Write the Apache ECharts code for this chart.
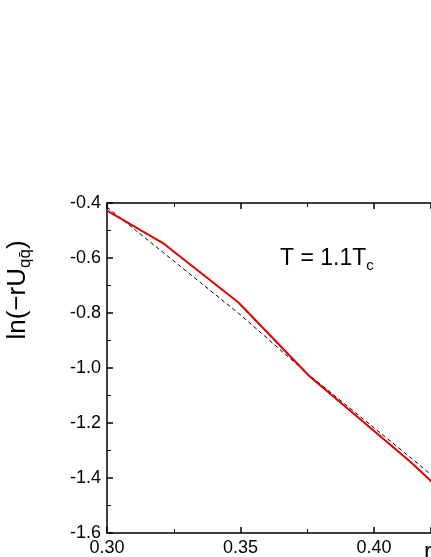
<!DOCTYPE html><html><head><meta charset="utf-8"><script src="https://cdn.jsdelivr.net/npm/echarts@6/dist/echarts.min.js"></script></head><body style="margin:0"><div id="c" style="width:431px;height:557px"></div><script>
const redX=[0.30,0.3214,0.3492,0.3758,0.4139,0.43];
const redY=[-0.428,-0.549,-0.762,-1.030,-1.344,-1.49];
const dashX=[0.30,0.35,0.375,0.4142,0.43];
const dashY=[-0.415,-0.807,-1.02,-1.33,-1.46];
const yTicks=[-0.4,-0.6,-0.8,-1.0,-1.2,-1.4,-1.6];
const ax={lineStyle:{color:'#000',width:1.5}};
const tk={inside:true,length:6,lineStyle:{color:'#000',width:1.5}};
const mt={show:true,splitNumber:2,length:4,lineStyle:{color:'#000'}};
const c=echarts.init(document.getElementById('c'));
c.setOption({animation:false,
grid:{left:107,top:203,height:340,right:0},
xAxis:[{type:'value',min:0.30,max:0.4213,interval:0.05,axisLine:ax,axisTick:tk,minorTick:mt,splitLine:{show:false},axisLabel:{color:'#000',fontSize:18,fontFamily:'Liberation Sans',margin:6,showMaxLabel:false,formatter:v=>v.toFixed(2)}},
{type:'value',position:'top',min:0.30,max:0.4213,interval:0.05,axisLine:ax,axisTick:tk,minorTick:mt,splitLine:{show:false},axisLabel:{show:false}}],
yAxis:{type:'value',min:-1.6,max:-0.4,interval:0.2,axisLine:{show:true,...ax},axisTick:tk,minorTick:mt,splitLine:{show:false},axisLabel:{color:'#000',fontSize:18,fontFamily:'Liberation Sans',margin:6,formatter:v=>v.toFixed(1)}},
series:[{type:'line',data:dashX.map((x,i)=>[x,dashY[i]]),symbol:'none',lineStyle:{color:'#000',width:1,type:[4,3]}},
{type:'line',data:redX.map((x,i)=>[x,redY[i]]),symbol:'none',lineStyle:{color:'#e00000',width:2}}],
graphic:[{type:'text',left:280,top:247,style:{rich:{a:{fontSize:23,fontFamily:'Liberation Sans'},b:{fontSize:15,fontFamily:'Liberation Sans',padding:[14,0,0,0]}},text:'{a|T = 1.1T}{b|c}',fill:'#000'}},
{type:'text',x:18,y:290,rotation:Math.PI/2,style:{rich:{a:{fontSize:26,fontFamily:'Liberation Sans'},s:{fontSize:17,fontFamily:'Liberation Sans',padding:[14,0,0,0]}},text:'{a|ln(−rU}{s|qq̄}{a|)}',fill:'#000',align:'center',verticalAlign:'middle'}},
{type:'text',left:424,top:540,style:{text:'r',fontSize:24,fontFamily:'Liberation Sans',fill:'#000'}}]
});
</script></body></html>
